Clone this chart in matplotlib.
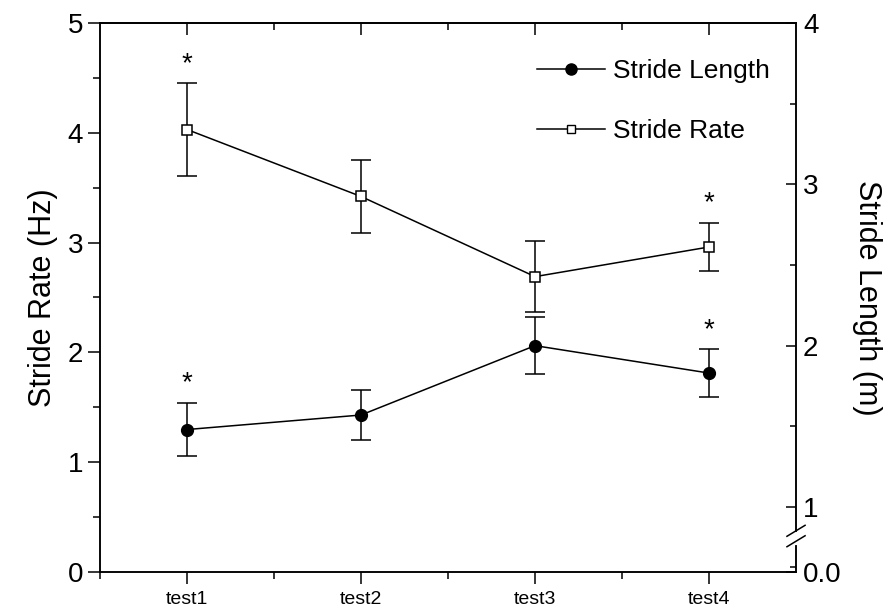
import matplotlib
matplotlib.use('Agg')
import matplotlib.pyplot as plt
from matplotlib.ticker import FixedLocator

plt.rcParams['font.family'] = ['Liberation Sans', 'DejaVu Sans']

# Data
tests = ['test1', 'test2', 'test3', 'test4']
rate_mean = [4.03, 3.42, 2.69, 2.96]      # Hz, left axis
rate_err = [0.42, 0.33, 0.32, 0.22]
length_mean = [1.48, 1.57, 2.00, 1.83]    # m, right axis
length_err = [0.165, 0.155, 0.177, 0.148]
rate_star = [True, False, False, True]
length_star = [True, False, False, True]

x = list(range(1, len(tests) + 1))

fig = plt.figure(figsize=(8.94, 6.12), dpi=100)
ax = fig.add_axes([0.1119, 0.0654, 0.7785, 0.897])
ax2 = ax.twinx()

# Stride rate (left axis)
ax.errorbar(x, rate_mean, yerr=rate_err, color='black', lw=1.1, elinewidth=1.1,
            capsize=7, capthick=1.1, marker='s', ms=6.5, mfc='white', mec='black',
            mew=1.1, zorder=3)
# Stride length (right axis)
ax2.errorbar(x, length_mean, yerr=length_err, color='black', lw=1.1, elinewidth=1.1,
             capsize=7, capthick=1.1, marker='o', ms=8.5, mfc='black', mec='black',
             zorder=3)

# significance stars
for xi, m, e, s in zip(x, rate_mean, rate_err, rate_star):
    if s:
        ax.text(xi, m + e + 0.06, '*', ha='center', va='bottom', fontsize=20)
for xi, m, e, s in zip(x, length_mean, length_err, length_star):
    if s:
        ax2.text(xi, m + e + 0.04, '*', ha='center', va='bottom', fontsize=20)

# left axis
ax.set_xlim(0.5, 4.5)
ax.set_ylim(0, 5)
ax.set_yticks([0, 1, 2, 3, 4, 5])
ax.yaxis.set_minor_locator(FixedLocator([0.5, 1.5, 2.5, 3.5, 4.5]))
ax.set_xticks(x)
ax.set_xticklabels(tests, fontsize=14)
ax.xaxis.set_minor_locator(FixedLocator([0.5, 1.5, 2.5, 3.5]))
ax.tick_params(axis='y', which='major', direction='out', length=8.5, width=1.1, labelsize=20)
ax.tick_params(axis='y', which='minor', direction='out', length=5, width=1.1)
ax.tick_params(axis='x', which='major', direction='out', length=8.5, width=1.1, pad=5)
ax.tick_params(axis='x', which='minor', direction='out', length=5, width=1.1)
ax.set_ylabel('Stride Rate (Hz)', fontsize=22, labelpad=7)
for sp in ax.spines.values():
    sp.set_linewidth(1.1)

# inward ticks along the top edge
top = ax.secondary_xaxis('top')
top.set_xticks(x)
top.set_xticklabels([])
top.xaxis.set_minor_locator(FixedLocator([1.5, 2.5, 3.5]))
top.tick_params(axis='x', which='major', direction='in', length=8.5, width=1.1)
top.tick_params(axis='x', which='minor', direction='in', length=5, width=1.1)
top.spines['top'].set_linewidth(1.1)

# right axis with break between 0 and 1
low = 0.597
ax2.set_ylim(low, 4)
ax2.set_yticks([low, 1, 2, 3, 4])
ax2.set_yticklabels(['0.0', '1', '2', '3', '4'])
ax2.yaxis.set_minor_locator(FixedLocator([low + 0.03, 1.5, 2.5, 3.5]))
ax2.tick_params(axis='y', which='major', direction='in', length=7, width=1.1,
                labelsize=20, pad=5)
ax2.tick_params(axis='y', which='minor', direction='in', length=4, width=1.1)
ax2.set_ylabel('Stride Length (m)', fontsize=22, rotation=270, labelpad=29)
for sp in ax2.spines.values():
    sp.set_linewidth(1.1)

# break marks on the right spine
ax2.plot([1.0, 1.0], [0.052, 0.070], transform=ax2.transAxes, color='white',
         lw=3, clip_on=False, zorder=5)
for yb in (0.056, 0.075):
    ax2.plot([0.987, 1.013], [yb - 0.01, yb + 0.01], transform=ax2.transAxes,
             color='black', lw=1.1, clip_on=False, zorder=6)

# legend
h1, = ax.plot([], [], color='black', lw=1.1, marker='o', ms=8, mfc='black')
h2, = ax.plot([], [], color='black', lw=1.1, marker='s', ms=5.5, mfc='white', mew=1.0)
ax.legend([h1, h2], ['Stride Length', 'Stride Rate'], loc='upper right',
          bbox_to_anchor=(0.997, 0.977), frameon=False, fontsize=19,
          handlelength=2.6, labelspacing=1.35, handletextpad=0.3)

plt.savefig('out.png', dpi=100)
plt.close()
